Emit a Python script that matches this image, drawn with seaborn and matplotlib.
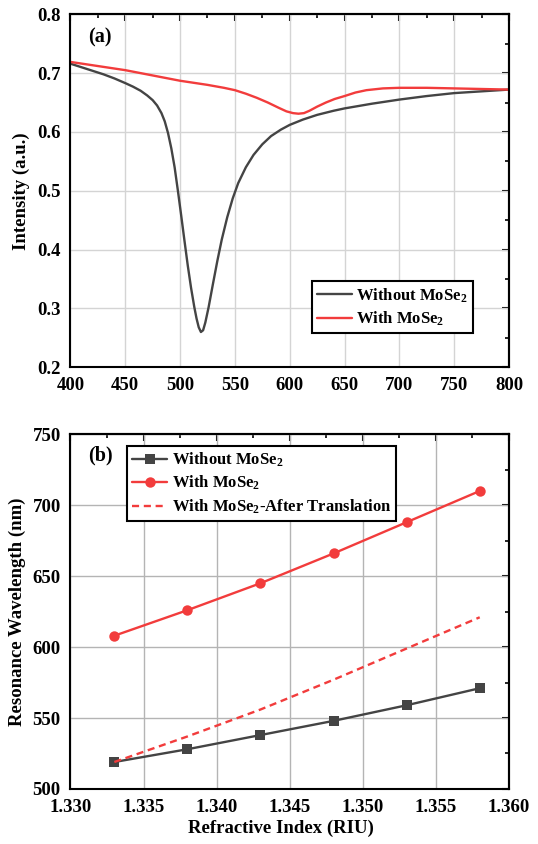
import numpy as np
import pandas as pd
import matplotlib
matplotlib.use("Agg")
import matplotlib.pyplot as plt
from matplotlib.ticker import MultipleLocator, AutoMinorLocator, FormatStrFormatter
import seaborn as sns

# ---- (a) reflection spectra ----
wl_bare = [400, 410, 420, 430, 440, 450, 457, 464, 470, 475, 479, 483, 486,
           489, 492, 495, 498, 501, 504, 507, 510, 513, 515, 517, 519, 521,
           523, 526, 530, 534, 538, 543, 548, 553, 560, 567, 575, 583, 592,
           600, 612, 625, 640, 650, 675, 700, 725, 750, 775, 800]
int_bare = [0.716, 0.710, 0.704, 0.698, 0.691, 0.683, 0.677, 0.670, 0.662,
            0.654, 0.645, 0.632, 0.618, 0.598, 0.572, 0.540, 0.500, 0.458,
            0.415, 0.373, 0.335, 0.302, 0.283, 0.268, 0.260, 0.263, 0.276,
            0.302, 0.342, 0.381, 0.417, 0.455, 0.487, 0.513, 0.540, 0.561,
            0.579, 0.593, 0.604, 0.612, 0.621, 0.629, 0.636, 0.640, 0.648,
            0.655, 0.661, 0.666, 0.669, 0.672]

wl_mose2 = [400, 425, 450, 475, 500, 525, 540, 550, 560, 570, 580, 590, 597,
            603, 608, 613, 618, 625, 633, 641, 650, 660, 670, 685, 700, 725,
            750, 775, 800]
int_mose2 = [0.719, 0.712, 0.705, 0.696, 0.687, 0.680, 0.675, 0.671, 0.665,
             0.658, 0.650, 0.641, 0.635, 0.632, 0.631, 0.632, 0.636, 0.643,
             0.650, 0.656, 0.661, 0.667, 0.671, 0.674, 0.675, 0.675, 0.674,
             0.673, 0.672]

# ---- (b) resonance wavelength vs refractive index ----
ri = [1.333, 1.338, 1.343, 1.348, 1.353, 1.358]
res_bare = [519, 528, 538, 548, 559, 571]
res_mose2 = [608, 626, 645, 666, 688, 710]
res_shifted = [519, 537, 556, 577, 599, 621]

labels_a = ["Without MoSe$_2$", "With MoSe$_2$"]
labels_b = ["Without MoSe$_2$", "With MoSe$_2$", "With MoSe$_2$-After Translation"]

GRAY = "#444444"
RED = "#f23c3c"

sns.set_theme(style="white")
plt.rcParams.update({
    "font.family": ["Liberation Serif", "DejaVu Serif"],
    "font.weight": "bold",
    "axes.labelweight": "bold",
    "mathtext.default": "regular",
    "axes.linewidth": 1.5,
    "axes.edgecolor": "black",
    "xtick.color": "black",
    "ytick.color": "black",
    "text.color": "black",
    "axes.labelcolor": "black",
})

fig = plt.figure(figsize=(5.38, 8.44), dpi=100)
ax1 = fig.add_axes([0.131, 0.5648, 0.815, 0.4183])
ax2 = fig.add_axes([0.131, 0.0652, 0.815, 0.4203])

df_a = pd.concat([
    pd.DataFrame({"wl": wl_bare, "I": int_bare, "s": labels_a[0]}),
    pd.DataFrame({"wl": wl_mose2, "I": int_mose2, "s": labels_a[1]}),
])
sns.lineplot(data=df_a, x="wl", y="I", hue="s", palette=[GRAY, RED],
             linewidth=1.7, ax=ax1, sort=False, estimator=None)

df_b1 = pd.DataFrame({"n": ri, "w": res_bare})
df_b2 = pd.DataFrame({"n": ri, "w": res_mose2})
df_b3 = pd.DataFrame({"n": ri, "w": res_shifted})
sns.lineplot(data=df_b1, x="n", y="w", color=GRAY, marker="s", markersize=6.5,
             markeredgewidth=0, linewidth=1.7, ax=ax2, label=labels_b[0])
sns.lineplot(data=df_b2, x="n", y="w", color=RED, marker="o", markersize=7.5,
             markeredgewidth=0, linewidth=1.7, ax=ax2, label=labels_b[1])
sns.lineplot(data=df_b3, x="n", y="w", color=RED, linestyle=(0, (3, 2)),
             linewidth=1.7, ax=ax2, label=labels_b[2])


def style_axes(ax, xlim, ylim, xmaj, ymaj, grid_color):
    ax.set_xlim(*xlim)
    ax.set_ylim(*ylim)
    ax.xaxis.set_major_locator(MultipleLocator(xmaj))
    ax.yaxis.set_major_locator(MultipleLocator(ymaj))
    ax.xaxis.set_minor_locator(AutoMinorLocator(2))
    ax.yaxis.set_minor_locator(AutoMinorLocator(2))
    ax.grid(True, which="major", color=grid_color, linewidth=1.0)
    ax.set_axisbelow(True)
    ax.tick_params(which="major", direction="out", length=5, width=1.5,
                   labelsize=13.5, pad=2)
    ax.tick_params(which="minor", direction="out", length=3, width=1.2)
    for lab in ax.get_xticklabels() + ax.get_yticklabels():
        lab.set_fontweight("bold")
    # mirrored inward ticks on top and right
    top = ax.secondary_xaxis("top")
    top.xaxis.set_major_locator(MultipleLocator(xmaj))
    top.xaxis.set_minor_locator(AutoMinorLocator(2))
    top.tick_params(which="major", direction="in", length=5, width=1.5,
                    labeltop=False)
    top.tick_params(which="minor", direction="in", length=3, width=1.2)
    right = ax.secondary_yaxis("right")
    right.yaxis.set_major_locator(MultipleLocator(ymaj))
    right.yaxis.set_minor_locator(AutoMinorLocator(2))
    right.tick_params(which="major", direction="in", length=5, width=1.5,
                      labelright=False)
    right.tick_params(which="minor", direction="in", length=3, width=1.2)
    for sp in ax.spines.values():
        sp.set_visible(True)
        sp.set_linewidth(1.5)
        sp.set_color("black")


legend_kw = dict(frameon=True, fancybox=False, edgecolor="black",
                 framealpha=1, handlelength=2.1, handletextpad=0.25,
                 borderpad=0.3, labelspacing=0.3, borderaxespad=0)

style_axes(ax1, (400, 800), (0.2, 0.8), 50, 0.1, "#d4d4d4")
ax1.yaxis.set_major_formatter(FormatStrFormatter("%.1f"))
ax1.set_xlabel("")
ax1.set_ylabel("Intensity (a.u.)", fontsize=13.5, fontweight="bold",
               labelpad=5)
ax1.text(0.04, 0.935, "(a)", transform=ax1.transAxes, fontsize=14.5,
         fontweight="bold", ha="left", va="center")
leg1 = ax1.legend(loc="lower right", bbox_to_anchor=(0.917, 0.097),
                  prop={"family": "Liberation Serif", "weight": "bold",
                        "size": 12}, **legend_kw)
leg1.get_frame().set_linewidth(1.5)

style_axes(ax2, (1.330, 1.360), (500, 750), 0.005, 50, "#b4b4b4")
ax2.xaxis.set_major_formatter(FormatStrFormatter("%.3f"))
ax2.set_xlabel("Refractive Index (RIU)", fontsize=13.5, fontweight="bold",
               labelpad=3, x=0.48)
ax2.set_ylabel("Resonance Wavelength (nm)", fontsize=13.5, fontweight="bold",
               labelpad=5)
ax2.text(0.04, 0.94, "(b)", transform=ax2.transAxes, fontsize=14.5,
         fontweight="bold", ha="left", va="center")
leg2 = ax2.legend(loc="upper left", bbox_to_anchor=(0.13, 0.968),
                  prop={"family": "Liberation Serif", "weight": "bold",
                        "size": 12}, **legend_kw)
leg2.get_frame().set_linewidth(1.5)

fig.savefig("out.png", dpi=100)
